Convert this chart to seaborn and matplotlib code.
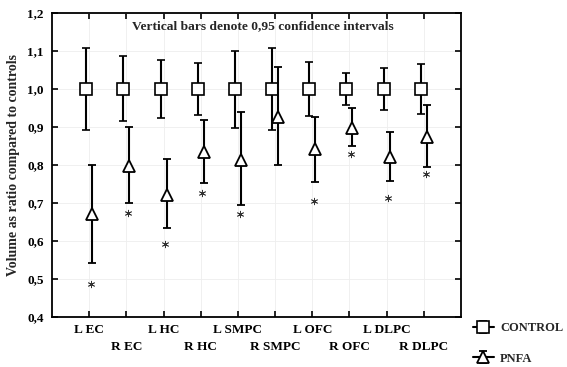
import numpy as np
import pandas as pd
import matplotlib
matplotlib.use('Agg')
import matplotlib.pyplot as plt
from matplotlib.lines import Line2D
from matplotlib.legend_handler import HandlerTuple
import seaborn as sns

# values
regions = ['L EC', 'R EC', 'L HC', 'R HC', 'L SMPC', 'R SMPC',
           'L OFC', 'R OFC', 'L DLPC', 'R DLPC']
control_mean = [1.0, 1.0, 1.0, 1.0, 1.0, 1.0, 1.0, 1.0, 1.0, 1.0]
control_lo = [0.893, 0.917, 0.924, 0.931, 0.898, 0.893, 0.928, 0.959, 0.945, 0.933]
control_hi = [1.108, 1.086, 1.076, 1.069, 1.101, 1.108, 1.072, 1.042, 1.054, 1.067]
pnfa_mean = [0.670, 0.798, 0.722, 0.834, 0.814, 0.927, 0.841, 0.898, 0.820, 0.875]
pnfa_lo = [0.543, 0.699, 0.633, 0.752, 0.695, 0.800, 0.754, 0.850, 0.757, 0.796]
pnfa_hi = [0.800, 0.901, 0.816, 0.919, 0.940, 1.059, 0.927, 0.950, 0.887, 0.957]
star_y = [0.488, 0.674, 0.591, 0.727, 0.672, np.nan, 0.705, 0.828, 0.713, 0.777]
y_ticks = [0.4, 0.5, 0.6, 0.7, 0.8, 0.9, 1.0, 1.1, 1.2]

sns.set_theme(style="whitegrid")
plt.rcParams['font.family'] = ['Liberation Serif', 'DejaVu Serif']
plt.rcParams['font.weight'] = 'bold'

fig = plt.figure(figsize=(5.67, 3.67), dpi=100)
ax = fig.add_axes([0.0917, 0.1362, 0.7213, 0.8284])

x = np.arange(len(regions))
dodge = 0.08

ctrl = ax.errorbar(x - dodge, control_mean,
                   yerr=[np.subtract(control_mean, control_lo), np.subtract(control_hi, control_mean)],
                   fmt='s', color='black', mfc='white', mec='black', ms=8, mew=1.2,
                   elinewidth=1.5, capsize=2.8, capthick=1.5, zorder=3, label='CONTROL')
pnfa = ax.errorbar(x + dodge, pnfa_mean,
                   yerr=[np.subtract(pnfa_mean, pnfa_lo), np.subtract(pnfa_hi, pnfa_mean)],
                   fmt='^', color='black', mfc='white', mec='black', ms=8.5, mew=1.3,
                   elinewidth=1.5, capsize=2.8, capthick=1.5, zorder=4, label='PNFA')

# significance stars
stars = pd.DataFrame({'x': x + dodge * 0.6, 'y': star_y}).dropna()
sns.scatterplot(data=stars, x='x', y='y', marker=(6, 2, 0), s=22, color='#333333',
                linewidth=0.6, ax=ax, zorder=5, legend=False)

ax.set_xlim(-1, len(regions))
ax.set_ylim(0.4, 1.2)
ax.set_yticks(y_ticks)
ax.set_yticklabels([f'{v:.1f}'.replace('.', ',') for v in y_ticks])
ax.set_xticks(x)
ax.set_xticklabels(regions)
ax.set_xlabel('')
ax.set_ylabel('Volume as ratio compared to controls', fontsize=10, fontweight='bold', labelpad=5)

ax.grid(True, color='#eeeeee', linewidth=0.6)
for s in ax.spines.values():
    s.set_color('black')
    s.set_linewidth(1.3)
ax.tick_params(axis='both', which='both', direction='in', length=4, width=1.2, color='black',
               top=True, right=True, bottom=True, left=True, labelsize=9.5,
               labelcolor='black')
ax.tick_params(axis='y', pad=6)
ax.tick_params(axis='x', pad=5)
# staggered category labels: odd ones sit on a second row
for i, tick in enumerate(ax.xaxis.get_major_ticks()):
    if i % 2 == 1:
        tick.set_pad(17)

ax.text(0.515, 0.957, 'Vertical bars denote 0,95 confidence intervals', transform=ax.transAxes,
        ha='center', va='center', fontsize=9.7, fontweight='bold')

# legend icons: horizontal line through the marker + error bar
hline = Line2D([], [], color='black', lw=1.5)
fig.legend(handles=[(hline, ctrl), (hline, pnfa)], labels=['CONTROL', 'PNFA'],
           handler_map={tuple: HandlerTuple(ndivide=1, pad=0)}, loc='upper left',
           bbox_to_anchor=(0.825, 0.135), frameon=False, fontsize=9, labelspacing=1.45,
           handlelength=1.7, handletextpad=0.5, borderaxespad=0)

fig.savefig('out.png', dpi=100, facecolor='white')
